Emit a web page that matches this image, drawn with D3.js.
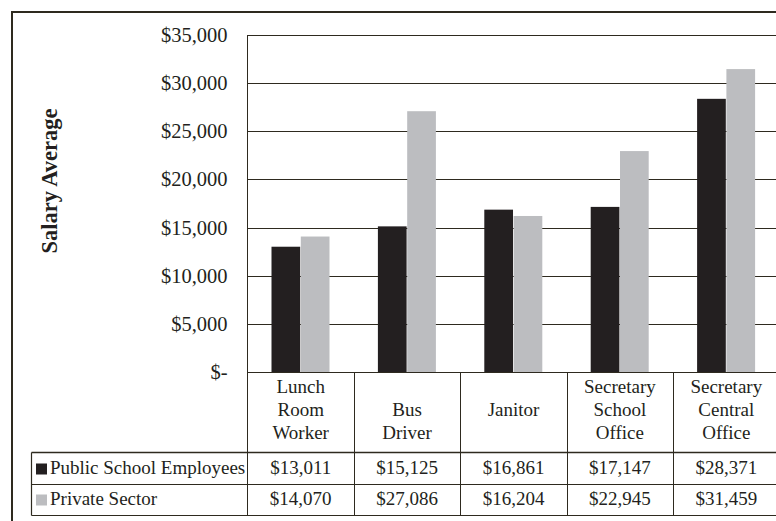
<!DOCTYPE html>
<html>
<head>
<meta charset="utf-8">
<script src="https://cdn.jsdelivr.net/npm/d3@7"></script>
<style>
  body { margin: 0; background: #fff; }
  text { font-family: "Liberation Serif", "Times New Roman", serif; fill: #231f20; }
</style>
</head>
<body>
<script>
/* data */
const categories = ['Lunch Room Worker', 'Bus Driver', 'Janitor', 'Secretary School Office', 'Secretary Central Office'];
const categoryLines = [['Lunch', 'Room', 'Worker'], ['Bus', 'Driver'], ['Janitor'], ['Secretary', 'School', 'Office'], ['Secretary', 'Central', 'Office']];
const seriesNames = ['Public School Employees', 'Private Sector'];
const publicValues = [13011, 15125, 16861, 17147, 28371];
const privateValues = [14070, 27086, 16204, 22945, 31459];
const yTicks = [0, 5000, 10000, 15000, 20000, 25000, 30000, 35000];

const seriesColors = ['#231f20', '#bcbdc0'];
const lineColor = '#2e2a1f';

/* canvas */
const width = 776, height = 521;
const plot = { left: 247.5, top: 35, bottom: 372, right: 779.5 };
const rowLines = [372, 452.5, 484.5, 515.5];
const tableLeft = 31.5;

const svg = d3.select('body').append('svg')
    .attr('width', width).attr('height', height);

/* outer frame */
svg.append('rect').attr('x', 12).attr('y', 12)
    .attr('width', width + 10).attr('height', height + 10)
    .attr('fill', 'none').attr('stroke', lineColor).attr('stroke-width', 2);

/* scales */
const xScale = d3.scaleBand().domain(categories).range([plot.left, plot.right]);
const innerScale = d3.scaleBand().domain(seriesNames).range([24, 82]).paddingInner(0.02);
const yScale = d3.scaleLinear().domain([0, 35000]).range([plot.bottom, plot.top]);

/* gridlines */
svg.append('g').selectAll('line').data(yTicks).enter().append('line')
    .attr('x1', plot.left).attr('x2', width)
    .attr('y1', d => Math.round(yScale(d)) + 0.5).attr('y2', d => Math.round(yScale(d)) + 0.5)
    .attr('stroke', lineColor).attr('stroke-width', 1);

/* y axis labels */
const yAxis = svg.append('g').attr('transform', 'translate(' + plot.left + ',0)')
    .call(d3.axisLeft(yScale).tickValues(yTicks).tickSize(0).tickPadding(20)
        .tickFormat(d => d === 0 ? '$-' : '$' + d3.format(',')(d)));
yAxis.select('.domain').remove();
yAxis.selectAll('text').attr('font-size', 20.5)
    .attr('font-family', '"Liberation Serif", serif').attr('fill', '#231f20');

/* y axis title */
svg.append('text')
    .attr('transform', 'translate(57,181) rotate(-90)')
    .attr('text-anchor', 'middle').attr('font-size', 22.5).attr('font-weight', 'bold')
    .text('Salary Average');

/* bars */
const rows = categories.map((c, i) => ({ cat: c, vals: [publicValues[i], privateValues[i]] }));
const groups = svg.append('g').selectAll('g').data(rows).enter().append('g')
    .attr('transform', d => 'translate(' + xScale(d.cat) + ',0)');
groups.selectAll('rect').data(d => d.vals.map((v, j) => ({ name: seriesNames[j], v: v, j: j })))
    .enter().append('rect')
    .attr('x', d => innerScale(d.name)).attr('width', innerScale.bandwidth())
    .attr('y', d => yScale(d.v)).attr('height', d => plot.bottom - yScale(d.v))
    .attr('fill', d => seriesColors[d.j]);

/* left axis line */
svg.append('line').attr('x1', plot.left).attr('x2', plot.left)
    .attr('y1', plot.top).attr('y2', rowLines[3])
    .attr('stroke', lineColor);

/* data table grid */
const table = svg.append('g');
table.selectAll('line.h').data(rowLines.slice(1)).enter().append('line')
    .attr('x1', tableLeft).attr('x2', width).attr('y1', d => d).attr('y2', d => d)
    .attr('stroke', lineColor).attr('stroke-width', d => d === rowLines[1] ? 1.5 : 1.2);
table.append('line').attr('x1', tableLeft).attr('x2', tableLeft)
    .attr('y1', rowLines[1]).attr('y2', rowLines[3]).attr('stroke', lineColor).attr('stroke-width', 1.2);
table.selectAll('line.v').data(categories.slice(1)).enter().append('line')
    .attr('x1', d => Math.round(xScale(d)) + 0.5).attr('x2', d => Math.round(xScale(d)) + 0.5)
    .attr('y1', plot.bottom).attr('y2', rowLines[3])
    .attr('stroke', lineColor);

/* category labels */
const lineBase = [393, 416, 439];
categories.forEach((c, i) => {
  const lines = categoryLines[i];
  const start = lines.length === 1 ? 1 : 3 - lines.length;
  lines.forEach((t, k) => {
    svg.append('text').attr('x', xScale(c) + xScale.bandwidth() / 2).attr('y', lineBase[start + k])
        .attr('text-anchor', 'middle').attr('font-size', 19).text(t);
  });
});

/* table values and legend keys */
const valueSets = [publicValues, privateValues];
const rowBase = [474, 505];
seriesNames.forEach((name, j) => {
  svg.append('rect').attr('x', 36).attr('y', rowBase[j] - 10.5)
      .attr('width', 11).attr('height', 11).attr('fill', seriesColors[j]);
  svg.append('text').attr('x', 50).attr('y', rowBase[j]).attr('font-size', 19).text(name);
  svg.append('g').selectAll('text').data(valueSets[j]).enter().append('text')
      .attr('x', (d, i) => xScale(categories[i]) + xScale.bandwidth() / 2)
      .attr('y', rowBase[j]).attr('text-anchor', 'middle').attr('font-size', 19)
      .text(d => '$' + d3.format(',')(d));
});
</script>
</body>
</html>
